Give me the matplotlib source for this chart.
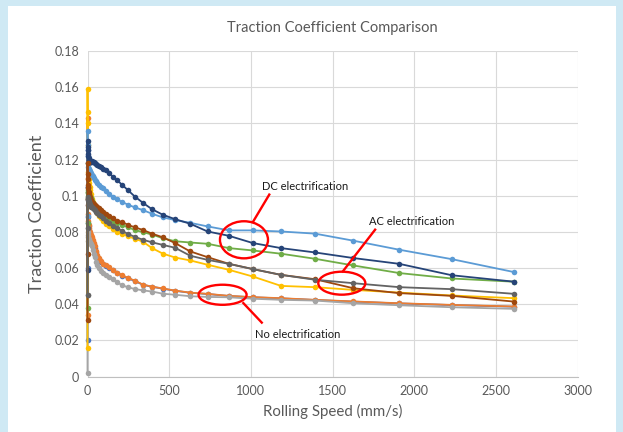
import matplotlib
matplotlib.use("Agg")
import matplotlib.pyplot as plt
from matplotlib.patches import Ellipse, Rectangle

plt.rcParams['font.family'] = ['Lato', 'DejaVu Sans']

# Rolling speed (mm/s) sample points shared by all series
speed = [0, 0, 0, 1, 2, 4, 6, 8, 10, 12, 14, 17, 20,
         23, 27, 32, 38, 44, 52, 60, 71, 83, 97,
         113, 132, 155, 182, 212, 248, 290, 340, 395, 460,
         536, 628, 735, 866, 1012, 1185, 1393, 1628, 1909, 2230, 2614]

blue = [0.020, 0.060, 0.125,
        0.105, 0.095, 0.088, 0.085, 0.083, 0.081, 0.080, 0.079, 0.078, 0.077,
        0.076, 0.075, 0.074, 0.0725, 0.0708, 0.069, 0.0668, 0.065, 0.0635, 0.062,
        0.061, 0.060, 0.0588, 0.0573, 0.0558, 0.0543, 0.0528, 0.0507, 0.0496, 0.0486,
        0.0474, 0.0463, 0.0456, 0.0445, 0.0438, 0.0432, 0.0423, 0.0414, 0.0404, 0.0395, 0.0386]

orange = [0.034, 0.095, 0.143,
          0.110, 0.098, 0.090, 0.086, 0.084, 0.082, 0.081, 0.080, 0.079, 0.0785,
          0.078, 0.077, 0.0755, 0.074, 0.072, 0.0695, 0.067, 0.0655, 0.0638, 0.0622,
          0.0615, 0.0605, 0.059, 0.0575, 0.056, 0.0545, 0.053, 0.0508, 0.0497, 0.0487,
          0.0475, 0.0464, 0.0457, 0.0446, 0.0439, 0.0433, 0.0424, 0.0415, 0.0405, 0.0396, 0.0387]

light_gray = [0.002, 0.045, 0.075,
              0.082, 0.080, 0.078, 0.077, 0.076, 0.0755, 0.075, 0.0745, 0.074, 0.0735,
              0.073, 0.072, 0.070, 0.068, 0.066, 0.0635, 0.0615, 0.0598, 0.0585, 0.0575,
              0.0562, 0.055, 0.0537, 0.052, 0.0505, 0.0493, 0.0484, 0.0476, 0.047, 0.0458,
              0.0452, 0.0444, 0.044, 0.0438, 0.043, 0.0424, 0.042, 0.0405, 0.0394, 0.0383, 0.0374]

yellow = [0.016, 0.146, 0.159,
          0.140, 0.128, 0.118, 0.113, 0.110, 0.109, 0.107, 0.105, 0.103, 0.101,
          0.0995, 0.098, 0.0965, 0.095, 0.0935, 0.092, 0.0905, 0.089, 0.0875, 0.086,
          0.0845, 0.083, 0.0815, 0.080, 0.079, 0.0775, 0.0762, 0.0745, 0.071, 0.068,
          0.0658, 0.0642, 0.0618, 0.059, 0.0553, 0.0501, 0.0494, 0.0479, 0.0464, 0.0448, 0.0433]

light_blue = [0.089, 0.118, 0.136,
              0.128, 0.122, 0.118, 0.116, 0.115, 0.1145, 0.114, 0.1135, 0.113, 0.1125,
              0.112, 0.1115, 0.111, 0.1095, 0.1088, 0.108, 0.107, 0.106, 0.105, 0.104,
              0.1025, 0.101, 0.0995, 0.098, 0.0965, 0.095, 0.0935, 0.092, 0.090, 0.088,
              0.0865, 0.085, 0.083, 0.0808, 0.0808, 0.0802, 0.079, 0.0751, 0.0701, 0.0649, 0.0577]

green = [0.038, 0.085, 0.100,
         0.102, 0.103, 0.102, 0.1015, 0.101, 0.1005, 0.100, 0.0995, 0.099, 0.0985,
         0.098, 0.097, 0.096, 0.095, 0.0945, 0.094, 0.093, 0.092, 0.091, 0.090,
         0.089, 0.0875, 0.086, 0.085, 0.0838, 0.0825, 0.081, 0.0798, 0.0785, 0.0765,
         0.0748, 0.0741, 0.0734, 0.071, 0.0697, 0.0679, 0.0651, 0.0614, 0.0572, 0.0542, 0.0524]

dark_navy = [0.059, 0.105, 0.130,
             0.127, 0.125, 0.123, 0.122, 0.121, 0.120, 0.1195, 0.119, 0.1188, 0.1186,
             0.1188, 0.119, 0.1188, 0.1185, 0.118, 0.1175, 0.117, 0.1165, 0.116, 0.115,
             0.114, 0.1125, 0.1105, 0.1085, 0.106, 0.103, 0.0995, 0.096, 0.0925, 0.0895,
             0.087, 0.0845, 0.0802, 0.0778, 0.0738, 0.071, 0.0686, 0.0655, 0.0623, 0.056, 0.0524]

brown = [0.031, 0.068, 0.118,
         0.112, 0.109, 0.106, 0.104, 0.102, 0.101, 0.100, 0.099, 0.098, 0.0975,
         0.097, 0.0965, 0.096, 0.0955, 0.095, 0.0945, 0.094, 0.093, 0.092, 0.091,
         0.090, 0.089, 0.0875, 0.086, 0.0855, 0.0838, 0.0825, 0.081, 0.079, 0.077,
         0.0738, 0.0692, 0.066, 0.0623, 0.0594, 0.0562, 0.0538, 0.0488, 0.0461, 0.0446, 0.0414]

dark_gray = [0.045, 0.082, 0.098,
             0.099, 0.0985, 0.098, 0.0975, 0.097, 0.0965, 0.096, 0.0955, 0.095, 0.0945,
             0.094, 0.0935, 0.093, 0.0925, 0.0918, 0.091, 0.0902, 0.0895, 0.0885, 0.0875,
             0.086, 0.0848, 0.0835, 0.082, 0.0805, 0.0788, 0.0772, 0.0756, 0.0742, 0.0728,
             0.0712, 0.0668, 0.0645, 0.0623, 0.0594, 0.0562, 0.0535, 0.0516, 0.0494, 0.0483, 0.0457]

series = [
    (blue, '#4472C4'),
    (orange, '#ED7D31'),
    (light_gray, '#A5A5A5'),
    (yellow, '#FFC000'),
    (light_blue, '#5B9BD5'),
    (green, '#70AD47'),
    (dark_navy, '#264478'),
    (brown, '#9E480E'),
    (dark_gray, '#636363'),
]

title = 'Traction Coefficient Comparison'
xlabel = 'Rolling Speed (mm/s)'
ylabel = 'Traction Coefficient'
xticks = [0, 500, 1000, 1500, 2000, 2500, 3000]
yticks = [0, 0.02, 0.04, 0.06, 0.08, 0.1, 0.12, 0.14, 0.16, 0.18]
ytick_labels = ['0', '0.02', '0.04', '0.06', '0.08', '0.1', '0.12', '0.14', '0.16', '0.18']

W, H = 623, 432
fig = plt.figure(figsize=(W / 100, H / 100), dpi=100, facecolor='#cfe9f4')
# white chart panel
panel = Rectangle((8 / W, 0), (616 - 8) / W, (H - 6) / H,
                  transform=fig.transFigure, facecolor='white',
                  edgecolor='none', zorder=-10)
fig.add_artist(panel)

ax = fig.add_axes([87.5 / W, (H - 376.5) / H, (577.5 - 87.5) / W, (376.5 - 51) / H])
ax.set_zorder(5)
ax.set_facecolor('white')

for vals, col in series:
    ax.plot(speed, vals, color=col, lw=1.3, marker='o', markersize=4.0,
            markeredgewidth=0, zorder=3, clip_on=False)

ax.set_xlim(0, 3000)
ax.set_ylim(0, 0.18)
ax.set_xticks(xticks)
ax.set_yticks(yticks)
ax.set_yticklabels(ytick_labels)
ax.grid(True, color='#d9d9d9', lw=0.8, zorder=0)
ax.set_axisbelow(True)
for s in ['top', 'right', 'left']:
    ax.spines[s].set_visible(False)
ax.spines['bottom'].set_color('#bfbfbf')
ax.tick_params(length=0, labelsize=9, colors='#595959', pad=6)

ax.set_title(title, fontsize=10.5, color='#595959', pad=14)
ax.set_xlabel(xlabel, fontsize=10.8, color='#595959', labelpad=5)
ax.set_ylabel(ylabel, fontsize=13, color='#595959', labelpad=7)

# annotations
red = '#FF0000'
ann_fs = 8
ax.add_patch(Ellipse((958, 0.0756), 294, 0.0205, fill=False, edgecolor=red, lw=1.7, zorder=5))
ax.plot([1015, 1113], [0.0858, 0.1006], color=red, lw=1.7, zorder=5)
ax.text(1069, 0.105, 'DC electrification', fontsize=ann_fs, color='#1a1a1a', va='center', ha='left')

ax.add_patch(Ellipse((1557, 0.0516), 288, 0.0127, fill=False, edgecolor=red, lw=1.7, zorder=5))
ax.plot([1563, 1761], [0.0581, 0.0812], color=red, lw=1.7, zorder=5)
ax.text(1724, 0.0856, 'AC electrification', fontsize=ann_fs, color='#1a1a1a', va='center', ha='left')

ax.add_patch(Ellipse((827, 0.0452), 294, 0.0111, fill=False, edgecolor=red, lw=1.7, zorder=5))
ax.plot([954, 1067], [0.0406, 0.0298], color=red, lw=1.7, zorder=5)
ax.text(1026, 0.0235, 'No electrification', fontsize=ann_fs, color='#1a1a1a', va='center', ha='left')

fig.savefig('out.png', dpi=100, facecolor=fig.get_facecolor())
